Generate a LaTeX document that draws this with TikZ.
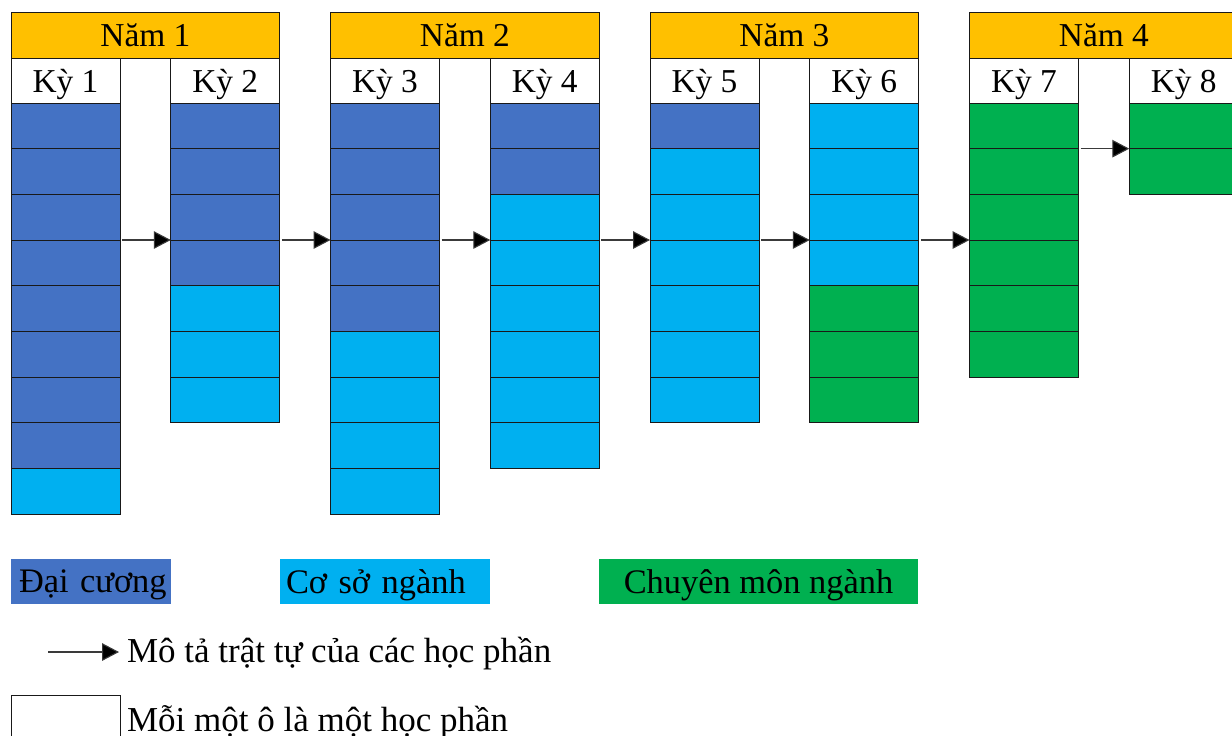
\documentclass[tikz,border=0pt]{standalone}
\usepackage{fontspec}
\setmainfont{Liberation Serif}
\usetikzlibrary{arrows.meta}

\definecolor{dcblue}{HTML}{4472C4}   % Đại cương
\definecolor{csblue}{HTML}{00B0F0}   % Cơ sở ngành
\definecolor{cmgreen}{HTML}{00B050}  % Chuyên môn ngành
\definecolor{yeargold}{HTML}{FFC000}
\definecolor{flowgray}{HTML}{3A3A3A}

\tikzset{
  box/.style={draw=black!90, line width=0.5pt, inner sep=0pt, outer sep=0pt, anchor=north west},
  cell/.style={box, minimum width=54.5pt, minimum height=22.835pt},
  yearbox/.style={box, fill=yeargold, minimum width=134.375pt, minimum height=23pt,
    font=\fontsize{16.7}{20}\selectfont},
  kybox/.style={box, fill=white, minimum width=54.5pt, minimum height=22.5pt,
    text depth=0pt, font=\fontsize{16.7}{20}\selectfont},
  legbox/.style={inner sep=0pt, outer sep=0pt, anchor=north west, minimum height=22.5pt,
    text depth=0pt, font=\fontsize{17.2}{21}\selectfont},
  legtext/.style={inner sep=0pt, outer sep=0pt, anchor=base west,
    font=\fontsize{17.5}{21}\selectfont},
  flow/.style={draw=flowgray, line width=0.55pt,
    -{Triangle[length=8.5pt, width=8.8pt, fill=black]}, shorten <=1pt},
}

\begin{document}
\begin{tikzpicture}[x=0.5pt, y=-0.5pt]
\useasboundingbox (0,0) rectangle (1232,735);

% year headers
\foreach \y in {1,...,4} {
  \pgfmathsetmacro\xx{11+319.5*(\y-1)}
  \node[yearbox] (nam\y) at (\xx,12) {Năm \y};
}

% semesters: number of Đại cương / Cơ sở ngành / Chuyên môn ngành courses
\foreach \k/\nb/\nc/\ng in {1/8/1/0, 2/4/3/0, 3/5/4/0, 4/2/6/0, 5/1/6/0, 6/0/4/3, 7/0/0/6, 8/0/0/2} {
  \pgfmathsetmacro\xx{11+159.75*(\k-1)}
  \pgfmathtruncatemacro\ntot{\nb+\nc+\ng}
  \node[kybox] (ky\k) at (\xx,58) {Kỳ \k};
  \foreach \i in {1,...,\ntot} {
    \ifnum\i>\numexpr\nb+\nc\relax
      \def\fc{cmgreen}%
    \else
      \ifnum\i>\nb\relax \def\fc{csblue}\else \def\fc{dcblue}\fi
    \fi
    \node[cell, fill=\fc] (c\k-\i) at (\xx,{103+45.67*(\i-1)}) {};
  }
}

% order of courses between semesters
\foreach \a/\b in {1/2, 2/3, 3/4, 4/5, 5/6, 6/7}
  \draw[flow] (c\a-3.south east) -- (c\b-3.south west);
\draw[flow] (c7-1.south east) -- (c8-1.south west);

% legend: categories
\node[legbox, fill=dcblue, minimum width=79.75pt, text width=71.75pt, align=left, inner xsep=4pt]
  (lgdc) at (11,559) {\mbox{Đại cương}};
\node[legbox, fill=csblue, minimum width=105pt, text width=99pt, align=left, inner xsep=3pt]
  (lgcs) at (280,559) {\mbox{Cơ sở ngành}};
\node[legbox, fill=cmgreen, minimum width=159.5pt]
  (lgcm) at (599,559) {Chuyên môn ngành};

% legend: arrow and cell
\node[legtext] (lgflow) at (127,662.5) {Mô tả trật tự của các học phần};
\coordinate (lgstart) at (48,652);
\draw[flow, shorten <=0pt, shorten >=4pt] (lgstart) -- (lgstart -| lgflow.west);

\node[cell, fill=white] (lgcell) at (11,695) {};
\node[legtext] (lgcelltxt) at (127,731) {Mỗi một ô là một học phần};
\end{tikzpicture}
\end{document}
